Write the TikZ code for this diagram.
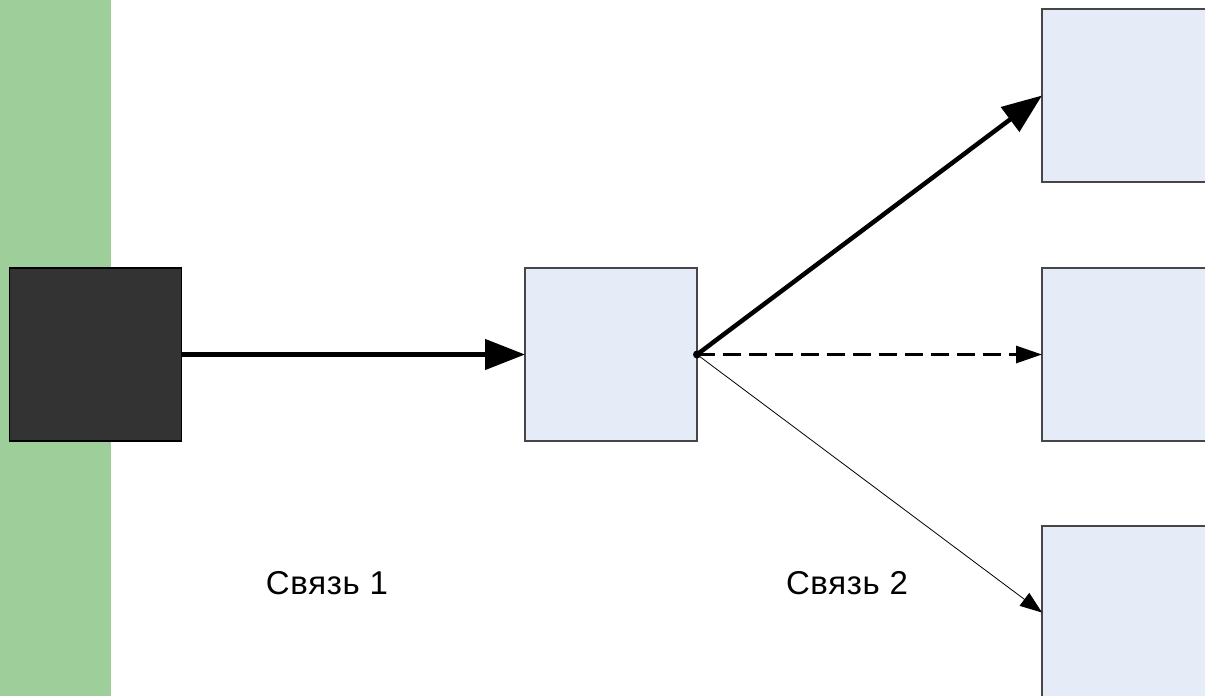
\documentclass[tikz,border=0pt]{standalone}
\usepackage{fontspec}
\setmainfont{Liberation Sans}
\usetikzlibrary{arrows.meta}
\definecolor{stripgreen}{RGB}{158,206,154}
\definecolor{boxfill}{RGB}{229,236,247}
\definecolor{boxedge}{RGB}{70,70,70}
\definecolor{srcfill}{RGB}{51,51,51}
\tikzset{
  block/.style={draw=boxedge, line width=1.2pt, fill=boxfill, minimum width=172pt,
    minimum height=173pt, inner sep=0pt, outer sep=0pt},
  source/.style={block, fill=srcfill, draw=black},
  strong/.style={line width=4.5pt, -{Triangle[length=40pt,width=30pt]}},
  weak/.style={line width=0.8pt, -{Triangle[length=22pt,width=16pt]}},
  maybe/.style={line width=3pt, dash pattern=on 18pt off 8pt,
    -{Triangle[length=26pt,width=17pt]}},
  caption/.style={font=\fontsize{33}{38}\selectfont\addfontfeatures{LetterSpace=2},
    inner sep=0pt}
}
\begin{document}
\begin{tikzpicture}[x=1pt,y=-1pt]
  \clip (0,0) rectangle (1205,696);
  \fill[white] (0,0) rectangle (1205,696);
  % green strip on the left
  \fill[stripgreen] (0,0) rectangle (111,696);

  % blocks
  \node[source] (src) at (95.5,354.5) {};
  \node[block] (mid) at (611,354.5) {};
  \node[block, anchor=north west] (top) at (1042,9) {};
  \node[block, anchor=north west] (right) at (1042,268) {};
  \node[block, anchor=north west] (low) at (1042,526) {};

  % connections
  \draw[strong] (src.east) -- (mid.west);
  \draw[strong, line cap=round] (mid.east) -- (top.west);
  \draw[maybe] (mid.east) -- (right.west);
  \draw[weak] (mid.east) -- (low.west);
  \fill (mid.east) circle (4pt);

  % labels
  \node[caption] (l1) at (327,583) {Связь 1};
  \node[caption] (l2) at (847,583) {Связь 2};
\end{tikzpicture}
\end{document}
